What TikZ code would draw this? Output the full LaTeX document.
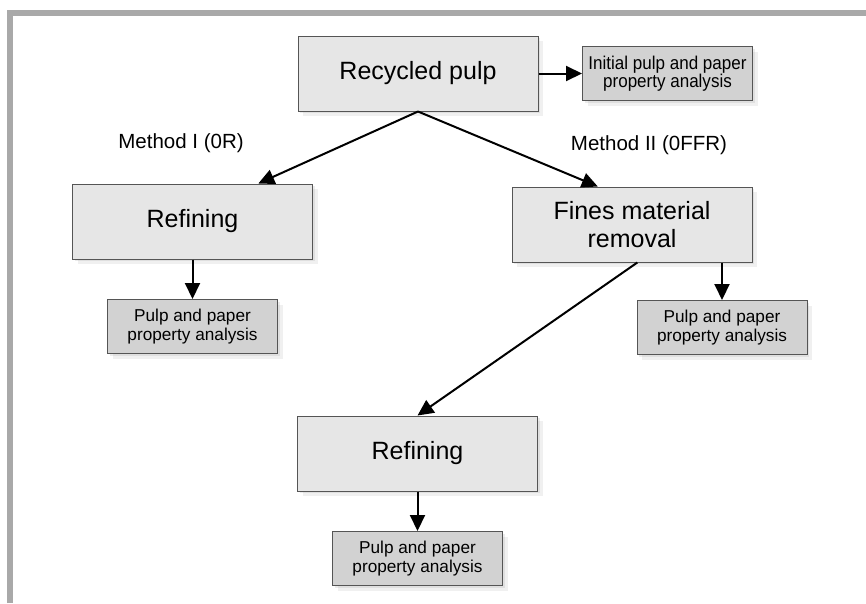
\documentclass[tikz,border=0pt]{standalone}
\usepackage{fontspec}
\setmainfont{Liberation Sans}
\newfontfamily\narrowfont[FakeStretch=0.92]{Liberation Sans}
\usetikzlibrary{positioning,shadows,arrows.meta}
\definecolor{boxgray}{HTML}{E6E6E6}
\definecolor{infogray}{HTML}{D2D2D2}
\definecolor{edgegray}{HTML}{555555}
\definecolor{framegray}{HTML}{A9A9A9}

\begin{document}
\begin{tikzpicture}[x=1pt, y=-1pt, node distance=105pt, on grid,
        softshadow/.style={drop shadow={opacity=0.15, shadow xshift=2pt, shadow yshift=-2pt},
        drop shadow={opacity=0.12, shadow xshift=5pt, shadow yshift=-5pt}},
        process/.style={rectangle, fill=boxgray, draw=edgegray, line width=1pt, softshadow,
        minimum width=240pt, minimum height=75pt, align=center, font=\fontsize{25}{28}\selectfont},
        analysis/.style={rectangle, fill=infogray, draw=edgegray, line width=1pt, softshadow,
        minimum width=170pt, minimum height=54pt, align=center, font=\fontsize{17.2}{19}\selectfont},
        flow/.style={-{Triangle[length=16pt, width=15pt]}, line width=2pt},
        method/.style={font=\fontsize{20.5}{24}\selectfont}]
        \useasboundingbox (0,0) rectangle (866,603);
        \draw[framegray, line width=6pt, miter limit=10] (10,603) -- (10,13) -- (866,13);

        \node[process] (recycled) at (418,73.5) {Recycled pulp};
        \node[analysis, font=\narrowfont\fontsize{18.5}{17}\selectfont] (initial) [right=249.5pt of recycled] {Initial pulp and paper\\property analysis};
        \node[process] (refineA) at (192.5,221.5) {Refining};
        \node[analysis] (pulpA) [below=of refineA] {Pulp and paper\\property analysis};
        \node[process] (fines) at (632,224.5) {Fines material\\removal};
        \node[analysis] (pulpR) [below right=103pt and 90pt of fines] {Pulp and paper\\property analysis};
        \node[process] (refineB) at (417.5,453.5) {Refining};
        \node[analysis] (pulpB) [below=of refineB] {Pulp and paper\\property analysis};

        \node[method] (methodA) at (181,143) {Method I (0R)};
        \node[method] (methodB) at (649,145) {Method II (0FFR)};

        \path (recycled) edge [flow] (initial);
        \draw[flow] (recycled.south) -- (refineA.30);
        \draw[flow] (recycled.south) -- (fines.132);
        \draw[flow] (pulpA.north |- refineA.south) -- (pulpA.north);
        \draw[flow] (pulpR.north |- fines.south) -- (pulpR.north);
        \draw[flow] (fines.-82) -- (refineB.north);
        \path (refineB) edge [flow] (pulpB);
\end{tikzpicture}
\end{document}
